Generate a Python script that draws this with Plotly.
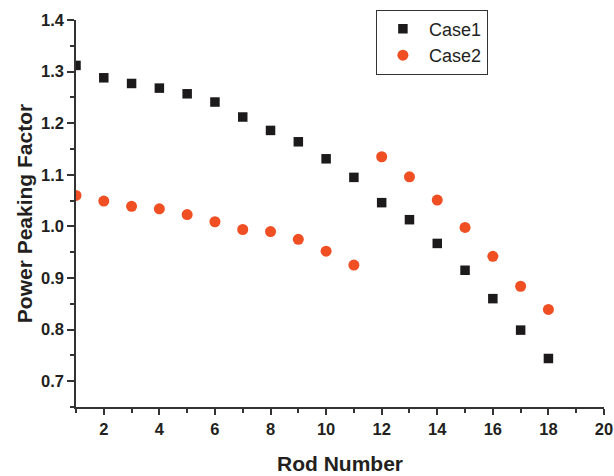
import plotly.graph_objects as go

rods = list(range(1, 19))
case1 = [1.312, 1.288, 1.277, 1.268, 1.257, 1.241, 1.212, 1.186, 1.164, 1.131,
         1.095, 1.046, 1.013, 0.967, 0.915, 0.860, 0.799, 0.744]
case2 = [1.060, 1.049, 1.039, 1.034, 1.023, 1.009, 0.994, 0.990, 0.975, 0.952,
         0.925, 1.135, 1.096, 1.051, 0.998, 0.942, 0.884, 0.839]

fig = go.Figure()
fig.add_trace(go.Scatter(x=rods, y=case1, mode="markers", name="Case1",
                         marker=dict(symbol="square", size=9.5, color="#1c1a1b")))
fig.add_trace(go.Scatter(x=rods, y=case2, mode="markers", name="Case2",
                         marker=dict(symbol="circle", size=11, color="#f04e23")))

tick_font = dict(family="Liberation Sans, Arial", size=16.5, color="#231f20")
title_font = dict(family="Liberation Sans, Arial", size=21, color="#231f20")

fig.update_layout(
    width=614, height=476,
    margin=dict(l=76, r=10, t=18, b=69),
    paper_bgcolor="white", plot_bgcolor="white",
    showlegend=True,
    legend=dict(x=0.568, y=1.027, xanchor="left", yanchor="top",
                bordercolor="#333333", borderwidth=1, bgcolor="white",
                font=dict(family="Liberation Sans, Arial", size=18, color="#231f20"),
                tracegroupgap=0, itemwidth=42),
    xaxis=dict(range=[1, 20], tick0=0, dtick=2, ticks="outside", ticklen=6,
               tickwidth=1.5, tickcolor="#333333", showline=True, linecolor="#333333",
               linewidth=1.5, showgrid=False, zeroline=False, automargin=False,
               tickprefix="<b>", ticksuffix="</b>", tickfont=tick_font,
               minor=dict(dtick=1, tick0=0, ticks="outside", ticklen=4, tickwidth=1.5,
                          tickcolor="#333333"),
               title=dict(text="<b>Rod Number</b>", font=title_font, standoff=20)),
    yaxis=dict(range=[0.65, 1.4], tick0=0.7, dtick=0.1, ticks="outside", ticklen=7,
               tickwidth=1.5, tickcolor="#333333", showline=True, linecolor="#333333",
               linewidth=1.5, showgrid=False, zeroline=False, tickformat=".1f",
               automargin=False, tickprefix="<b>", ticksuffix="</b>", tickfont=tick_font,
               minor=dict(dtick=0.05, tick0=0.7, ticks="outside", ticklen=4, tickwidth=1.5,
                          tickcolor="#333333"),
               title=dict(text="<b>Power Peaking Factor</b>", font=title_font, standoff=3)),
)

fig.write_html("out.html")
